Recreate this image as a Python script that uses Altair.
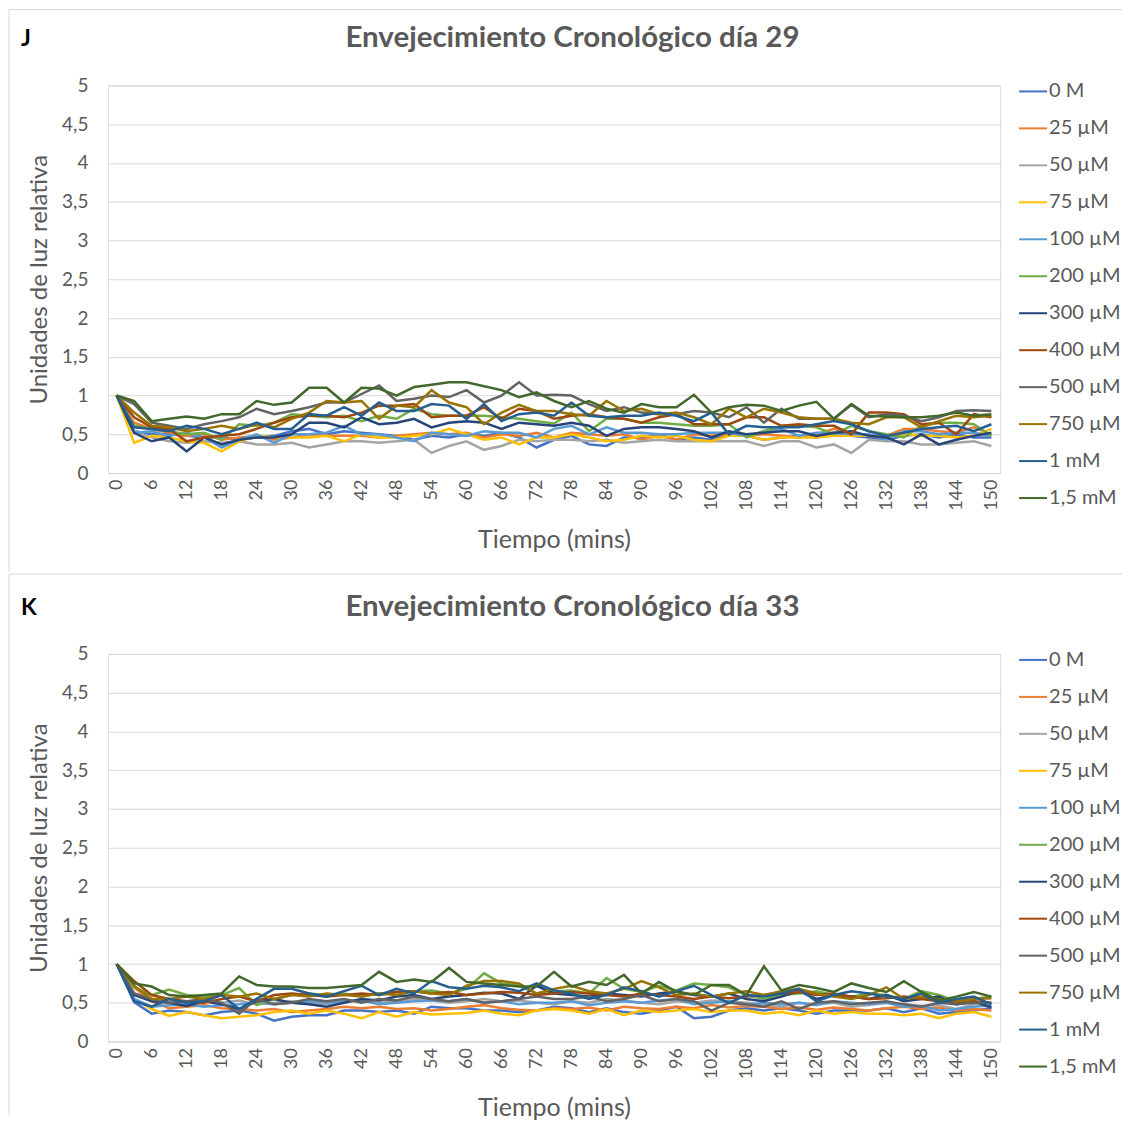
import altair as alt
import pandas as pd

series = ["0 M", "25 µM", "50 µM", "75 µM", "100 µM", "200 µM", "300 µM",
          "400 µM", "500 µM", "750 µM", "1 mM", "1,5 mM"]
colors = ["#4472C4", "#ED7D31", "#A5A5A5", "#FFC000", "#5B9BD5", "#70AD47",
          "#264478", "#9E480E", "#636363", "#997300", "#255E91", "#43682B"]
times = list(range(0, 151, 3))
x_ticks = list(range(0, 151, 6))
y_ticks = [0, 0.5, 1, 1.5, 2, 2.5, 3, 3.5, 4, 4.5, 5]

# ---- Día 29 (J) ----
j_0M = [1.0,0.54,0.50,0.50,0.48,0.46,0.46,0.43,0.46,0.48,0.54,0.57,0.50,0.54,0.52,0.50,0.48,0.43,0.48,0.46,0.50,0.48,0.52,0.46,0.33,0.43,
        0.48,0.37,0.35,0.46,0.46,0.50,0.43,0.46,0.43,0.50,0.48,0.43,0.46,0.48,0.46,0.50,0.48,0.46,0.43,0.48,0.50,0.46,0.50,0.46,0.46]
j_25 = [1.0,0.65,0.57,0.52,0.48,0.50,0.43,0.46,0.48,0.43,0.46,0.50,0.48,0.48,0.48,0.46,0.48,0.50,0.52,0.50,0.52,0.46,0.50,0.48,0.52,0.46,
        0.52,0.50,0.48,0.50,0.43,0.48,0.43,0.50,0.48,0.50,0.48,0.50,0.48,0.46,0.50,0.57,0.50,0.48,0.48,0.57,0.57,0.54,0.52,0.59,0.50]
j_50 = [1.0,0.54,0.46,0.41,0.39,0.41,0.39,0.41,0.37,0.37,0.39,0.33,0.37,0.41,0.41,0.39,0.41,0.43,0.26,0.35,0.41,0.30,0.35,0.43,0.41,0.43,
        0.43,0.41,0.43,0.39,0.41,0.43,0.41,0.41,0.41,0.41,0.41,0.35,0.41,0.41,0.33,0.37,0.26,0.43,0.41,0.41,0.37,0.37,0.39,0.41,0.35]
j_75 = [1.0,0.39,0.48,0.46,0.41,0.39,0.28,0.41,0.48,0.46,0.46,0.46,0.48,0.41,0.50,0.46,0.46,0.48,0.50,0.57,0.50,0.43,0.46,0.37,0.46,0.46,
        0.50,0.46,0.41,0.43,0.48,0.46,0.48,0.43,0.41,0.48,0.48,0.43,0.46,0.46,0.46,0.48,0.48,0.48,0.46,0.50,0.48,0.48,0.46,0.48,0.57]
j_100 = [1.0,0.52,0.54,0.48,0.52,0.46,0.33,0.43,0.50,0.39,0.50,0.50,0.52,0.61,0.50,0.50,0.46,0.41,0.52,0.50,0.48,0.54,0.52,0.52,0.46,0.57,
         0.61,0.50,0.59,0.52,0.52,0.50,0.50,0.52,0.52,0.52,0.48,0.54,0.57,0.48,0.52,0.52,0.50,0.50,0.43,0.54,0.54,0.50,0.52,0.52,0.48]
j_200 = [1.0,0.61,0.57,0.54,0.50,0.52,0.43,0.63,0.61,0.65,0.76,0.74,0.72,0.74,0.67,0.74,0.70,0.83,0.76,0.74,0.74,0.74,0.72,0.70,0.67,0.64,
         0.78,0.54,0.70,0.70,0.65,0.65,0.63,0.61,0.61,0.63,0.46,0.54,0.61,0.61,0.59,0.50,0.61,0.54,0.50,0.46,0.61,0.65,0.65,0.63,0.48]
j_300 = [1.0,0.52,0.41,0.46,0.28,0.46,0.37,0.43,0.46,0.46,0.50,0.65,0.65,0.59,0.72,0.63,0.65,0.70,0.59,0.65,0.67,0.65,0.57,0.65,0.63,0.61,
         0.65,0.61,0.48,0.57,0.59,0.59,0.57,0.54,0.46,0.54,0.50,0.52,0.54,0.54,0.48,0.52,0.54,0.48,0.46,0.37,0.50,0.37,0.43,0.48,0.52]
j_400 = [1.0,0.72,0.59,0.57,0.41,0.46,0.48,0.50,0.57,0.65,0.72,0.74,0.74,0.72,0.78,0.87,0.87,0.89,0.72,0.74,0.74,0.85,0.70,0.83,0.80,0.70,
         0.74,0.76,0.72,0.70,0.65,0.72,0.76,0.63,0.63,0.63,0.72,0.72,0.61,0.63,0.61,0.61,0.50,0.78,0.78,0.76,0.63,0.65,0.50,0.76,0.72]
j_500 = [1.0,0.89,0.65,0.61,0.57,0.63,0.67,0.72,0.83,0.76,0.80,0.85,0.91,0.91,1.02,1.13,0.93,0.96,1.0,0.98,1.07,0.91,1.0,1.17,1.0,1.01,
         1.0,0.89,0.80,0.85,0.78,0.76,0.76,0.80,0.78,0.72,0.85,0.65,0.83,0.70,0.70,0.70,0.88,0.72,0.76,0.74,0.67,0.72,0.80,0.81,0.80]
j_750 = [1.0,0.78,0.61,0.59,0.54,0.57,0.61,0.57,0.63,0.59,0.70,0.78,0.93,0.91,0.93,0.70,0.87,0.85,1.07,0.91,0.85,0.63,0.78,0.88,0.80,0.80,
         0.76,0.74,0.93,0.80,0.83,0.76,0.78,0.72,0.63,0.83,0.72,0.83,0.78,0.72,0.70,0.70,0.65,0.63,0.72,0.72,0.59,0.67,0.74,0.72,0.74]
j_1mM = [1.0,0.59,0.57,0.54,0.61,0.57,0.50,0.57,0.65,0.57,0.57,0.76,0.74,0.85,0.74,0.91,0.80,0.80,0.89,0.87,0.70,0.89,0.67,0.76,0.78,0.74,
         0.91,0.74,0.72,0.74,0.74,0.78,0.74,0.67,0.78,0.50,0.61,0.59,0.59,0.59,0.63,0.67,0.63,0.54,0.48,0.52,0.57,0.59,0.61,0.54,0.63]
j_15mM = [1.0,0.93,0.67,0.70,0.73,0.70,0.76,0.76,0.93,0.88,0.91,1.10,1.10,0.91,1.10,1.09,1.0,1.11,1.14,1.17,1.17,1.12,1.07,0.98,1.04,0.93,
          0.85,0.93,0.83,0.78,0.89,0.85,0.85,1.01,0.78,0.85,0.88,0.87,0.80,0.87,0.92,0.70,0.89,0.74,0.73,0.72,0.72,0.74,0.78,0.74,0.76]

# ---- Día 33 (K) ----
k_0M = [1.0,0.51,0.36,0.40,0.38,0.34,0.38,0.40,0.36,0.27,0.32,0.34,0.34,0.40,0.40,0.38,0.40,0.36,0.45,0.43,0.43,0.40,0.40,0.38,0.40,0.45,
        0.43,0.38,0.43,0.38,0.36,0.40,0.45,0.30,0.32,0.40,0.43,0.40,0.43,0.40,0.36,0.40,0.40,0.40,0.43,0.38,0.43,0.36,0.38,0.40,0.43]
k_25 = [1.0,0.70,0.52,0.43,0.45,0.47,0.43,0.42,0.40,0.42,0.38,0.40,0.42,0.45,0.43,0.45,0.42,0.43,0.40,0.42,0.45,0.47,0.43,0.41,0.40,0.43,
        0.42,0.44,0.40,0.45,0.43,0.42,0.45,0.43,0.47,0.44,0.46,0.45,0.42,0.44,0.41,0.44,0.42,0.40,0.43,0.45,0.42,0.44,0.40,0.42,0.40]
k_50 = [1.0,0.62,0.55,0.50,0.47,0.52,0.50,0.53,0.48,0.50,0.52,0.50,0.48,0.52,0.53,0.50,0.52,0.55,0.53,0.50,0.52,0.55,0.52,0.53,0.50,0.48,
        0.52,0.50,0.55,0.53,0.50,0.48,0.52,0.50,0.53,0.52,0.50,0.48,0.45,0.50,0.48,0.50,0.45,0.47,0.50,0.48,0.46,0.47,0.42,0.48,0.45]
k_75 = [1.0,0.55,0.42,0.33,0.38,0.34,0.30,0.32,0.34,0.38,0.40,0.36,0.40,0.36,0.30,0.38,0.32,0.38,0.35,0.36,0.37,0.40,0.36,0.34,0.40,0.42,
        0.40,0.36,0.42,0.34,0.40,0.38,0.40,0.42,0.38,0.40,0.40,0.36,0.38,0.34,0.40,0.36,0.38,0.36,0.36,0.34,0.36,0.30,0.36,0.38,0.32]
k_100 = [1.0,0.55,0.45,0.47,0.48,0.45,0.47,0.48,0.50,0.48,0.50,0.52,0.50,0.52,0.53,0.48,0.50,0.52,0.53,0.52,0.55,0.50,0.52,0.48,0.50,0.50,
         0.52,0.47,0.50,0.52,0.50,0.53,0.55,0.48,0.50,0.52,0.47,0.50,0.48,0.50,0.47,0.52,0.50,0.48,0.50,0.45,0.46,0.40,0.42,0.45,0.47]
k_200 = [1.0,0.70,0.60,0.67,0.60,0.58,0.60,0.69,0.47,0.55,0.60,0.62,0.60,0.62,0.58,0.62,0.64,0.65,0.66,0.62,0.68,0.88,0.75,0.72,0.62,0.65,
         0.66,0.62,0.82,0.68,0.64,0.72,0.66,0.75,0.73,0.70,0.60,0.55,0.60,0.62,0.65,0.60,0.58,0.62,0.60,0.55,0.65,0.60,0.52,0.55,0.58]
k_300 = [1.0,0.60,0.52,0.50,0.46,0.52,0.48,0.42,0.52,0.55,0.50,0.48,0.45,0.50,0.55,0.53,0.58,0.60,0.55,0.58,0.60,0.63,0.62,0.55,0.72,0.62,
         0.60,0.58,0.62,0.60,0.58,0.62,0.65,0.60,0.58,0.62,0.55,0.52,0.58,0.65,0.55,0.60,0.58,0.55,0.60,0.52,0.55,0.58,0.48,0.52,0.44]
k_400 = [1.0,0.78,0.60,0.55,0.52,0.50,0.55,0.58,0.52,0.60,0.62,0.60,0.58,0.60,0.62,0.60,0.64,0.65,0.62,0.64,0.60,0.62,0.64,0.63,0.60,0.62,
         0.64,0.62,0.60,0.58,0.62,0.60,0.58,0.55,0.58,0.56,0.58,0.60,0.62,0.64,0.60,0.62,0.58,0.55,0.56,0.58,0.55,0.52,0.50,0.52,0.50]
k_500 = [1.0,0.62,0.55,0.50,0.52,0.55,0.50,0.36,0.55,0.48,0.50,0.55,0.52,0.55,0.50,0.55,0.53,0.58,0.55,0.52,0.55,0.50,0.52,0.55,0.58,0.55,
         0.55,0.58,0.52,0.55,0.60,0.52,0.55,0.52,0.40,0.50,0.48,0.45,0.52,0.42,0.50,0.52,0.48,0.50,0.52,0.48,0.45,0.50,0.48,0.50,0.50]
k_750 = [1.0,0.72,0.55,0.55,0.58,0.55,0.60,0.58,0.62,0.55,0.60,0.58,0.62,0.60,0.58,0.62,0.60,0.65,0.62,0.60,0.72,0.78,0.78,0.75,0.62,0.68,
         0.72,0.65,0.62,0.68,0.78,0.70,0.60,0.62,0.58,0.62,0.65,0.60,0.65,0.68,0.62,0.58,0.55,0.60,0.70,0.55,0.58,0.55,0.52,0.55,0.56]
k_1mM = [1.0,0.52,0.45,0.55,0.50,0.52,0.60,0.42,0.55,0.68,0.68,0.62,0.58,0.65,0.72,0.60,0.68,0.62,0.78,0.70,0.68,0.72,0.70,0.65,0.75,0.66,
         0.62,0.55,0.60,0.70,0.65,0.58,0.65,0.72,0.60,0.50,0.60,0.58,0.62,0.68,0.52,0.60,0.65,0.62,0.58,0.55,0.62,0.50,0.55,0.58,0.48]
k_15mM = [1.0,0.75,0.71,0.60,0.58,0.60,0.62,0.84,0.73,0.71,0.71,0.69,0.69,0.71,0.73,0.90,0.77,0.80,0.77,0.95,0.77,0.75,0.73,0.71,0.71,0.90,
          0.71,0.77,0.73,0.86,0.62,0.77,0.64,0.60,0.73,0.73,0.60,0.97,0.66,0.73,0.69,0.64,0.75,0.69,0.64,0.78,0.64,0.53,0.58,0.64,0.58]

j_values = [j_0M, j_25, j_50, j_75, j_100, j_200, j_300, j_400, j_500, j_750, j_1mM, j_15mM]
k_values = [k_0M, k_25, k_50, k_75, k_100, k_200, k_300, k_400, k_500, k_750, k_1mM, k_15mM]

FONT = "Lato"
GRAY = "#595959"


def long_df(values):
    rows = []
    for idx, (name, vals) in enumerate(zip(series, values)):
        assert len(vals) == len(times), (name, len(vals))
        for t, v in zip(times, vals):
            rows.append({"t": t, "serie": name, "v": v, "o": idx})
    return pd.DataFrame(rows)


def panel(values, letter, title, frame_top_y, bottom_extent):
    df = long_df(values)
    lines = alt.Chart(df).mark_line(strokeWidth=2.5).encode(
        x=alt.X("t:Q",
                scale=alt.Scale(domain=[-1.5, 151.5], nice=False, zero=False),
                axis=alt.Axis(values=x_ticks, labelAngle=270, grid=False,
                              domain=True, domainColor="#D9D9D9", domainWidth=1,
                              ticks=False, tickSize=0, labelPadding=6,
                              labelFontSize=18, labelColor=GRAY, labelFont=FONT,
                              title="Tiempo (mins)", titleFontSize=25,
                              titleFontWeight="normal", titleColor=GRAY,
                              titleFont=FONT, titlePadding=17)),
        y=alt.Y("v:Q",
                scale=alt.Scale(domain=[0, 5], nice=False),
                axis=alt.Axis(values=y_ticks,
                              labelExpr="replace(toString(datum.value), '.', ',')",
                              grid=True, gridColor="#D9D9D9", gridWidth=1,
                              domain=False, ticks=False, tickSize=0,
                              labelPadding=20, labelFontSize=19, labelColor=GRAY,
                              labelFont=FONT, title="Unidades de luz relativa",
                              titleFontSize=24, titleFontWeight="normal",
                              titleColor=GRAY, titleFont=FONT, titlePadding=10)),
        color=alt.Color("serie:N",
                        scale=alt.Scale(domain=series, range=colors),
                        legend=alt.Legend(title=None, orient="none",
                                          legendX=911, legendY=-9,
                                          symbolType="stroke", symbolSize=784,
                                          symbolStrokeWidth=2, labelFontSize=20,
                                          labelColor=GRAY, labelFont=FONT,
                                          rowPadding=12, labelOffset=1,
                                          padding=0)),
        order=alt.Order("o:Q"),
    )
    one = pd.DataFrame({"lbl": [letter], "ttl": [title]})
    letter_mark = alt.Chart(one).mark_text(
        fontSize=23, fontWeight="bold", color="#000000", align="left",
        baseline="middle", font=FONT
    ).encode(text="lbl:N", x=alt.value(-87), y=alt.value(-46))
    title_mark = alt.Chart(one).mark_text(
        fontSize=29.5, fontWeight="bold", color=GRAY, align="center",
        baseline="middle", font=FONT
    ).encode(text="ttl:N", x=alt.value(465), y=alt.value(-47))
    frame_top = alt.Chart(one).mark_rule(color="#D9D9D9", strokeWidth=1).encode(
        x=alt.value(-99), x2=alt.value(1015), y=alt.value(frame_top_y))
    frame_left = alt.Chart(one).mark_rule(color="#D9D9D9", strokeWidth=1).encode(
        x=alt.value(-99), y=alt.value(frame_top_y), y2=alt.value(bottom_extent))
    return alt.layer(frame_top, frame_left, lines, letter_mark, title_mark).properties(
        width=893, height=388,
    )


chart_j = panel(j_values, "J", "Envejecimiento Cronológico día 29", -76, 487)
chart_k = panel(k_values, "K", "Envejecimiento Cronológico día 33", -80, 462)

chart = alt.vconcat(chart_j, chart_k, spacing=0, padding=0).resolve_scale(
    color="independent").resolve_legend(color="independent").configure_view(
    strokeWidth=0).configure(background="white", font=FONT)

chart.save("out.html", embed_options={"renderer": "svg", "actions": False})
